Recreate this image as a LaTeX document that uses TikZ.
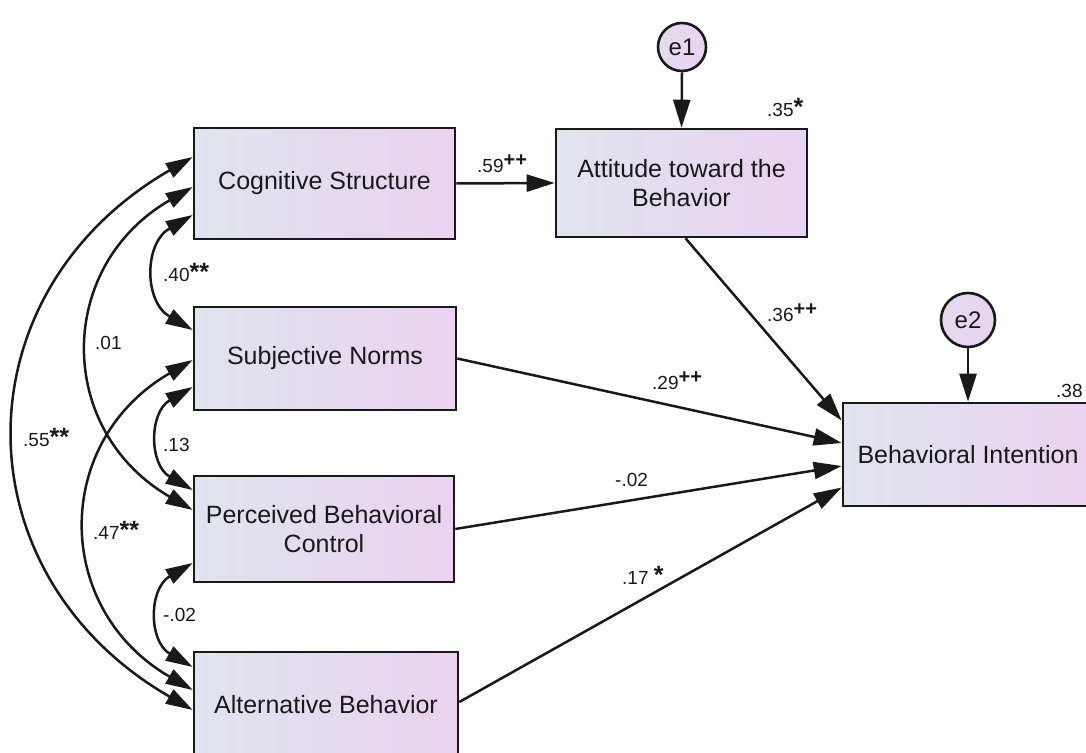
\documentclass[tikz,border=0pt]{standalone}
\usepackage{fontspec}
\setmainfont{Liberation Sans}
\usetikzlibrary{arrows.meta,calc}
\definecolor{shL}{RGB}{224,228,238}
\definecolor{shR}{RGB}{234,210,240}
\definecolor{ink}{RGB}{25,25,25}
\newcommand{\plusmark}{\raisebox{6pt}{\fontsize{20}{20}\selectfont\bfseries ++}}
\newcommand{\starmark}[1]{\raisebox{1pt}{\fontsize{25}{25}\selectfont\bfseries #1}}
\begin{document}
\begin{tikzpicture}[x=1pt,y=1pt,
  varbox/.style={draw=ink, line width=2.6pt, left color=shL, right color=shR, inner sep=0pt,
    font=\fontsize{25}{29}\selectfont, text=ink, align=center},
  errc/.style={circle, draw=ink, line width=2.6pt, left color=shL!50!shR, right color=shR,
    inner sep=0pt, font=\fontsize{24}{24}\selectfont, text=ink},
  regarrow/.style={line width=2.5pt, draw=ink, -{Triangle[length=28pt,width=17pt]}},
  covarrow/.style={line width=2.5pt, draw=ink,
    {Triangle[length=27pt,width=16pt]}-{Triangle[length=27pt,width=16pt]}},
  lab/.style={anchor=base west, inner sep=0pt, font=\fontsize{19}{19}\selectfont, text=ink}]
\useasboundingbox (0,0) rectangle (1086,752);
\clip (0,0) rectangle (1086,752);

% nodes
\node[varbox, minimum width=261pt, minimum height=111pt] (cs) at (324.5,568.5) {Cognitive Structure};
\node[varbox, minimum width=251pt, minimum height=108pt] (att) at (681.5,569) {Attitude toward the\\Behavior};
\node[varbox, minimum width=262pt, minimum height=103pt] (sn) at (325,393.5) {Subjective Norms};
\node[varbox, minimum width=260pt, minimum height=106pt] (pbc) at (324,223) {Perceived Behavioral\\Control};
\node[varbox, minimum width=264pt, minimum height=106pt] (alt) at (326,47) {Alternative Behavior};
\node[varbox, minimum width=250pt, minimum height=103pt] (bi) at (968,297.5) {Behavioral Intention};
\node[errc, minimum size=48pt] (e1) at (682,705) {e1};
\node[errc, minimum size=54pt] (e2) at (968,432) {e2};

% regression paths
\draw[regarrow] (cs.east) -- (att.west);
\draw[regarrow] (e1.south) -- (att.north);
\draw[regarrow] (e2.south) -- (bi.north);
\draw[regarrow] ([xshift=4pt]att.south) -- ([yshift=34pt]bi.west);
\draw[regarrow] (sn.east) -- ([yshift=11.5pt]bi.west);
\draw[regarrow] (pbc.east) -- ([yshift=-11.5pt]bi.west);
\draw[regarrow] ([yshift=3pt]alt.east) -- ([yshift=-33pt]bi.west);

% covariances
\draw[covarrow] ([yshift=-31.5pt]cs.west) to[out=210,in=150,looseness=1.26] ([yshift=28.5pt]sn.west);
\draw[covarrow] ([yshift=-3.5pt]cs.west) to[out=210,in=150,looseness=1.26] ([yshift=19pt]pbc.west);
\draw[covarrow] ([yshift=26.5pt]cs.west) to[out=210,in=150,looseness=1.26] ([yshift=-5pt]alt.west);
\draw[covarrow] ([yshift=-28.5pt]sn.west) to[out=210,in=150,looseness=1.26] ([yshift=39pt]pbc.west);
\draw[covarrow] ([yshift=-1.5pt]sn.west) to[out=210,in=150,looseness=1.26] ([yshift=15pt]alt.west);
\draw[covarrow] ([yshift=-34pt]pbc.west) to[out=210,in=150,looseness=1.26] ([yshift=38pt]alt.west);

% labels
\node[lab] (l59) at (477,579) {.59\plusmark};
\node[lab] (l35) at (767,635) {.35\starmark{*}};
\node[lab] (l36) at (767,430) {.36\plusmark};
\node[lab] (l29) at (652,362) {.29\plusmark};
\node[lab] (l02r) at (615,265) {-.02};
\node[lab] (l17) at (622,167) {.17 \starmark{*}};
\node[lab] (l38) at (1056,354) {.38};
\node[lab] (l40) at (163,470) {.40\starmark{**}};
\node[lab] (l01) at (95,402) {.01};
\node[lab] (l55) at (23,305) {.55\starmark{**}};
\node[lab] (l13) at (163,300) {.13};
\node[lab] (l47) at (93,212) {.47\starmark{**}};
\node[lab] (l02l) at (163,130) {-.02};
\end{tikzpicture}
\end{document}
